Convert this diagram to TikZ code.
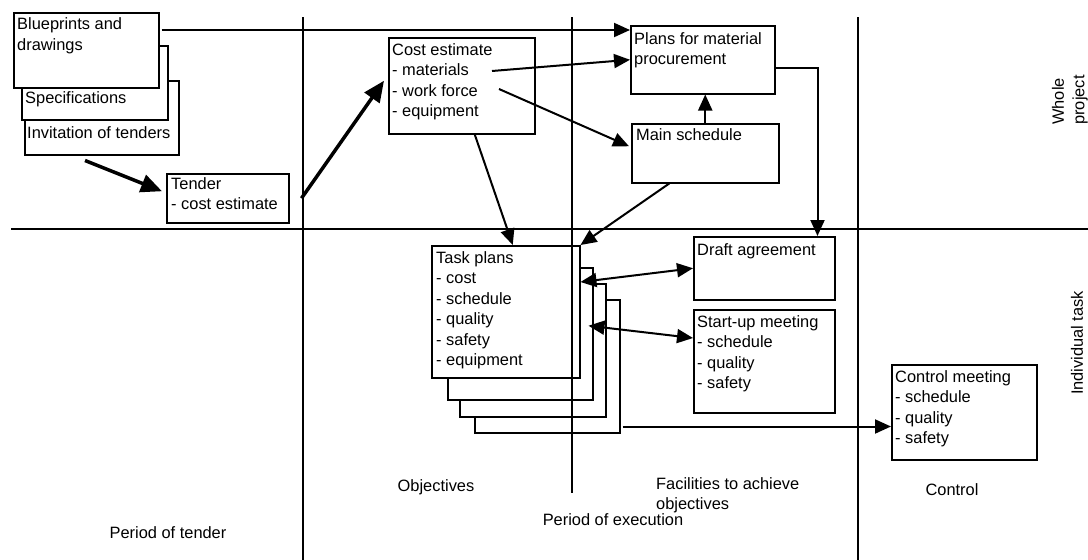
\documentclass[tikz,border=0pt]{standalone}
\usepackage{fontspec}
\setmainfont{Liberation Sans}
\usetikzlibrary{arrows.meta, calc}

\begin{document}
\begin{tikzpicture}[x=1pt, y=-1pt, font={\fontsize{16.4}{20.5}\selectfont},
    box/.style={draw, fill=white, line width=1.5pt, anchor=north west, inner sep=0pt},
    txt/.style={anchor=north west, align=left, inner sep=0pt},
    rule/.style={line width=1.3pt},
    n/.style={-{Triangle[length=16pt, width=14pt]}, line width=2pt},
    nn/.style={{Triangle[length=16pt, width=14pt]}-{Triangle[length=16pt, width=14pt]}, line width=2pt},
    hv/.style={-{Triangle[length=21pt, width=18pt]}, line width=3.5pt}]
        \useasboundingbox (0,0) rectangle (1088,560);
        % tender period
        \node[box, minimum width=154, minimum height=74] (invit) at (24,80) {};
        \node[txt] (invitT) at ([shift={(3,46)}]invit.north west) {Invitation of tenders};
        \node[box, minimum width=146, minimum height=74] (spec) at (21,45) {};
        \node[txt] (specT) at ([shift={(4,46)}]spec.north west) {Specifications};
        \node[box, minimum width=145, minimum height=75] (blue) at (13,12) {};
        \node[txt] (blueT) at ([shift={(4,5.5)}]blue.north west) {Blueprints and\\drawings};
        \node[box, minimum width=122, minimum height=49] (tend) at (166,173) {};
        \node[txt] (tendT) at ([shift={(5,4)}]tend.north west) {Tender\\- cost estimate};
        % whole project
        \node[box, minimum width=146, minimum height=96] (cost) at (388,37) {};
        \node[txt] (costT) at ([shift={(4,6)}]cost.north west) {Cost estimate\\- materials\\- work force\\- equipment};
        \node[box, minimum width=144, minimum height=68] (plans) at (630,25) {};
        \node[txt] (plansT) at ([shift={(4,7)}]plans.north west) {Plans for material\\procurement};
        \node[box, minimum width=147, minimum height=59] (main) at (631,123) {};
        \node[txt] (mainT) at ([shift={(5,5)}]main.north west) {Main schedule};
        % individual task
        \node[box, minimum width=145, minimum height=133] (task4) at (474,299) {};
        \node[box, minimum width=146, minimum height=133] (task3) at (459,283) {};
        \node[box, minimum width=145, minimum height=132] (task2) at (447,267) {};
        \node[box, minimum width=148, minimum height=132] (task1) at (431,245) {};
        \node[txt] (task1T) at ([shift={(5,6)}]task1.north west) {Task plans\\- cost\\- schedule\\- quality\\- safety\\- equipment};
        \node[box, minimum width=141, minimum height=63] (draft) at (693,236) {};
        \node[txt] (draftT) at ([shift={(4,7)}]draft.north west) {Draft agreement};
        \node[box, minimum width=141, minimum height=103] (start) at (693,309) {};
        \node[txt] (startT) at ([shift={(4,6)}]start.north west) {Start-up meeting\\- schedule\\- quality\\- safety};
        \node[box, minimum width=145, minimum height=95] (ctrl) at (891,364) {};
        \node[txt] (ctrlT) at ([shift={(4,6)}]ctrl.north west) {Control meeting\\- schedule\\- quality\\- safety};
        % grid
        \draw[rule] (11,229) -- (1088,229);
        \draw[rule] (303,17) -- (303,560);
        \draw[rule] (572,17) -- (572,493);
        \draw[rule] (858,17) -- (858,560);
        % captions
        \node (tenderP) at (168,533) {Period of tender};
        \node (objL) at (436,487) {Objectives};
        \node[txt] (facL) at (656,477) {Facilities to achieve\\objectives};
        \node (execP) at (613,520) {Period of execution};
        \node (ctrlL) at (952,490) {Control};
        \node[rotate=90, align=left] (wholeL) at (1070,100) {Whole\\project};
        \node[rotate=90] (indL) at (1077,343) {Individual task};
        % edges
        \coordinate (bp) at ([shift={(2,18)}]blue.north east);
        \draw[n] (bp) -- (bp -| plans.west);
        \draw[n] ($(cost.north west)+(104,34)$) -- (plans.west);
        \draw[n] ($(cost.north west)+(111,52)$) -- ($(main.west)+(-2,-7)$);
        \draw[n] ($(cost.south)+(13,0)$) -- ($(task1.north)+(7,0)$);
        \draw[n] ($(main.south)+(-36,0)$) -- (task1.north east);
        \draw[n] (main.north) -- (main.north |- plans.south);
        \draw[n] ([yshift=-8pt]plans.east) -| ([xshift=-18pt]draft.north east);
        \draw[hv] ($(invit.south west)+(61,5)$) -- ($(tend.west)+(-4,-7)$);
        \draw[hv] ($(tend.east)+(12,0)$) -- ($(cost.west)+(-4,-5)$);
        \draw[nn] ($(task1.north east)+(0,37)$) -- (draft.west);
        \draw[nn] ($(task2.east)+(-5,-8)$) -- ($(start.north west)+(0,29)$);
        \coordinate (tk) at ([shift={(2,-7)}]task4.south east);
        \draw[n] (tk) -- (tk -| ctrl.west);
    \end{tikzpicture}
\end{document}
